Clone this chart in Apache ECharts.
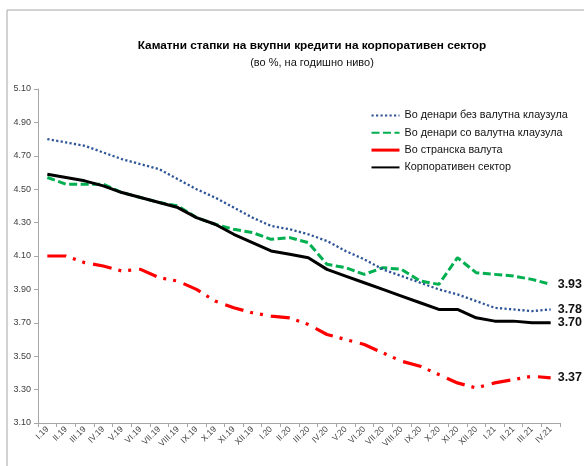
<!DOCTYPE html>
<html>
<head>
<meta charset="utf-8">
<script src="https://cdn.jsdelivr.net/npm/echarts@6/dist/echarts.min.js"></script>
<style>html,body{margin:0;padding:0;background:#fff;}#c{width:584px;height:466px;}</style>
</head>
<body>
<div id="c"></div>
<script>
const categories = ['I.19','II.19','III.19','IV.19','V.19','VI.19','VII.19','VIII.19','IX.19','X.19','XI.19','XII.19',
  'I.20','II.20','III.20','IV.20','V.20','VI.20','VII.20','VIII.20','IX.20','X.20','XI.20','XII.20',
  'I.21','II.21','III.21','IV.21'];
const denNoClause = [4.80,4.78,4.76,4.72,4.68,4.65,4.62,4.56,4.50,4.45,4.39,4.33,4.28,4.26,4.23,4.19,4.13,4.08,4.02,3.98,3.94,3.90,3.87,3.83,3.79,3.78,3.77,3.78];
const denClause   = [4.57,4.53,4.53,4.53,4.48,4.45,4.42,4.40,4.33,4.29,4.26,4.24,4.20,4.21,4.18,4.05,4.03,3.99,4.03,4.02,3.95,3.93,4.09,4.00,3.99,3.98,3.96,3.93];
const foreign     = [4.10,4.10,4.06,4.04,4.01,4.02,3.97,3.95,3.90,3.83,3.79,3.76,3.74,3.73,3.69,3.63,3.60,3.57,3.52,3.47,3.44,3.39,3.34,3.31,3.34,3.36,3.38,3.37];
const corporate   = [4.59,4.57,4.55,4.52,4.48,4.45,4.42,4.39,4.33,4.29,4.23,4.18,4.13,4.11,4.09,4.02,3.98,3.94,3.90,3.86,3.82,3.78,3.78,3.73,3.71,3.71,3.70,3.70];
const names = ['Во денари без валутна клаузула','Во денари со валутна клаузула','Во странска валута','Корпоративен сектор'];
const yTicks = {min: 3.1, max: 5.1, interval: 0.2};

const FONT = "'Liberation Sans','Arial',sans-serif";
const chart = echarts.init(document.getElementById('c'), null, {renderer: 'canvas'});
const endLabel = {
  show: true, distance: 7, fontFamily: FONT, fontWeight: 'bold', fontSize: 12.5, color: '#111',
  formatter: p => Number(p.value).toFixed(2)
};
chart.setOption({
  animation: false,
  backgroundColor: '#fff',
  textStyle: {fontFamily: FONT},
  graphic: [{type: 'rect', shape: {x: 7, y: 10, width: 620, height: 520},
    style: {fill: 'none', stroke: '#a6a6a6', lineWidth: 1}, silent: true}],
  title: {
    text: 'Каматни стапки на вкупни кредити на корпоративен сектор',
    subtext: '(во %, на годишно ниво)',
    left: 307, top: 35, textAlign: 'center', itemGap: 5,
    textStyle: {fontFamily: FONT, fontWeight: 'bold', fontSize: 11.8, color: '#000'},
    subtextStyle: {fontFamily: FONT, fontSize: 11, color: '#111'}
  },
  legend: {
    orient: 'vertical', left: 365, top: 105, itemWidth: 28, itemHeight: 12, itemGap: 6.3,
    itemStyle: {opacity: 0},
    textStyle: {fontFamily: FONT, fontSize: 10.8, color: '#111'},
    data: [
      {name: names[0]},
      {name: names[1]},
      {name: names[2], lineStyle: {type: 'solid', width: 3}},
      {name: names[3]}
    ]
  },
  grid: {left: 38, right: 24, top: 89, bottom: 43, containLabel: false},
  xAxis: {
    type: 'category', data: categories, boundaryGap: true,
    axisLine: {lineStyle: {color: '#a6a6a6', width: 1}},
    axisTick: {show: true, interval: 0, length: 4, lineStyle: {color: '#a6a6a6'}},
    axisLabel: {interval: 0, rotate: 45, fontFamily: FONT, fontSize: 8.5, color: '#404040', margin: 5}
  },
  yAxis: {
    type: 'value', min: yTicks.min, max: yTicks.max, interval: yTicks.interval,
    splitLine: {show: false},
    axisLine: {show: true, lineStyle: {color: '#a6a6a6', width: 1}},
    axisTick: {show: true, length: 4, lineStyle: {color: '#a6a6a6'}},
    axisLabel: {fontFamily: FONT, fontSize: 9, color: '#404040', margin: 7,
      formatter: v => v.toFixed(2)}
  },
  series: [
    {name: names[0], type: 'line', data: denNoClause, symbol: 'none', z: 3,
      lineStyle: {color: '#2E5597', width: 2.3, type: [2.2, 2.3], cap: 'butt'},
      itemStyle: {color: '#2E5597'}, endLabel: endLabel},
    {name: names[1], type: 'line', data: denClause, symbol: 'none', z: 2,
      lineStyle: {color: '#00B050', width: 3, type: [8, 3.5]},
      itemStyle: {color: '#00B050'}, endLabel: endLabel},
    {name: names[2], type: 'line', data: foreign, symbol: 'none', z: 2,
      lineStyle: {color: '#FF0000', width: 3.2, type: [19, 7, 3, 7, 3, 8]},
      itemStyle: {color: '#FF0000'}, endLabel: endLabel},
    {name: names[3], type: 'line', data: corporate, symbol: 'none', z: 4,
      lineStyle: {color: '#000', width: 3},
      itemStyle: {color: '#000'}, endLabel: endLabel}
  ]
});
</script>
</body>
</html>
